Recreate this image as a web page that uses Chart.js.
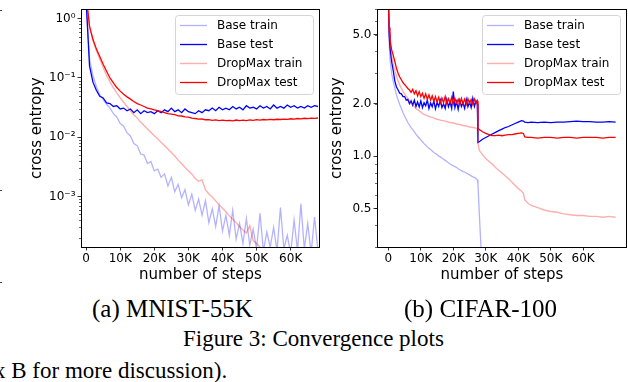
<!DOCTYPE html>
<html>
<head>
<meta charset="utf-8">
<script src="https://cdn.jsdelivr.net/npm/chart.js@4.4.1/dist/chart.umd.min.js"></script>
<style>
  body { margin: 0; background: #fff; width: 628px; height: 382px; overflow: hidden; position: relative; }
  canvas { position: absolute; top: 0; }
  #mnist { left: 0; }
  #cifar { left: 320px; }
  .cap { position: absolute; font-family: 'Liberation Serif', 'Times New Roman', serif; color: #000; white-space: nowrap; line-height: 1; }
  .mark { position: absolute; left: 0; width: 2px; height: 1px; background: #444; }
</style>
</head>
<body>
<canvas id="mnist" width="325" height="290"></canvas>
<canvas id="cifar" width="308" height="290"></canvas>
<div class="cap" style="left:92px;top:296px;font-size:25px">(a) MNIST-55K</div>
<div class="cap" style="left:404px;top:296px;font-size:25px">(b) CIFAR-100</div>
<div class="cap" style="left:183px;top:327px;font-size:23px">Figure 3: Convergence plots</div>
<div class="cap" style="left:-6px;top:359px;font-size:23px">x B for more discussion).</div>
<div class="mark" style="top:10px"></div>
<div class="mark" style="top:190px"></div>
<div class="mark" style="top:282px"></div>
<script>
const seriesLabels = ['Base train', 'Base test', 'DropMax train', 'DropMax test'];
const stepTicks = [0, 10000, 20000, 30000, 40000, 50000, 60000];
const stepLabels = ['0', '10K', '20K', '30K', '40K', '50K', '60K'];

// (a) MNIST-55K
const mnistSteps = [0, 1000, 2000, 3000, 4000, 5000, 6000, 7000, 8000, 9000,
  10000, 11000, 12000, 13000, 14000, 15000, 16000, 17000, 18000, 19000,
  20000, 21000, 22000, 23000, 24000, 25000, 26000, 27000, 28000, 29000,
  30000, 31000, 32000, 33000, 34000, 35000, 36000, 37000, 38000, 39000,
  40000, 41000, 42000, 43000, 44000, 45000, 46000, 47000, 48000, 49000,
  50000, 51000, 52000, 53000, 54000, 55000, 56000, 57000, 58000, 59000,
  60000, 61000, 62000, 63000, 64000, 65000, 66000, 67000, 68000];
const mnistBaseTrain = [2.0, 0.21, 0.11, 0.072, 0.052, 0.043, 0.036, 0.031, 0.025, 0.022,
  0.017, 0.0155, 0.0118, 0.0105, 0.0078, 0.0072, 0.0052, 0.005, 0.0036, 0.0039,
  0.0027, 0.0029, 0.0021, 0.0024, 0.0015, 0.0021, 0.0012, 0.0016, 0.00095, 0.0013,
  0.00072, 0.0011, 0.00058, 0.0009, 0.00048, 0.00085, 0.00036, 0.00062, 0.00031, 0.0007,
  0.00026, 0.00048, 0.00022, 0.00058, 0.00019, 0.00035, 0.00016, 0.00042, 0.00015, 0.00028,
  0.00013, 0.00052, 0.00012, 0.00025, 0.00014, 0.0003, 0.00012, 0.00065, 0.00013, 0.00022,
  0.00011, 0.0004, 0.00012, 0.00075, 0.00013, 0.00035, 0.00011, 0.00045, 0.00012];
const mnistBaseTest = [2.0, 0.16, 0.085, 0.062, 0.049, 0.046, 0.038, 0.037, 0.033, 0.034,
  0.030, 0.031, 0.028, 0.030, 0.026, 0.029, 0.025, 0.028, 0.026, 0.027,
  0.025, 0.028, 0.026, 0.029, 0.027, 0.031, 0.027, 0.029, 0.026, 0.030,
  0.027, 0.026, 0.025, 0.028, 0.026, 0.029, 0.028, 0.031, 0.028, 0.032,
  0.029, 0.031, 0.029, 0.033, 0.030, 0.032, 0.029, 0.034, 0.031, 0.032,
  0.030, 0.034, 0.031, 0.033, 0.030, 0.035, 0.031, 0.033, 0.031, 0.035,
  0.032, 0.034, 0.031, 0.033, 0.031, 0.034, 0.032, 0.034, 0.033];
const mnistDropTrain = [2.5, 0.72, 0.43, 0.29, 0.21, 0.15, 0.11, 0.086, 0.068, 0.056,
  0.046, 0.039, 0.033, 0.028, 0.024, 0.021, 0.018, 0.0158, 0.0138, 0.0121,
  0.0106, 0.0094, 0.0082, 0.0072, 0.0063, 0.0055, 0.0048, 0.0041, 0.0036, 0.0031,
  0.0027, 0.0024, 0.002, 0.0018, 0.0019, 0.0013, 0.0011, 0.00098, 0.00084, 0.00072,
  0.00063, 0.00055, 0.00047, 0.00041, 0.00036, 0.00031, 0.00027, 0.00024, 0.00032, 0.00018,
  0.00016, 0.00014, 0.00013, 0.00011, 0.0001, 0.00009, null, null, null, null,
  null, null, null, null, null, null, null, null, null];
const mnistDropTest = [2.5, 0.75, 0.45, 0.31, 0.23, 0.17, 0.13, 0.10, 0.083, 0.069,
  0.060, 0.053, 0.048, 0.044, 0.040, 0.037, 0.035, 0.033, 0.031, 0.030,
  0.029, 0.028, 0.027, 0.026, 0.025, 0.0245, 0.024, 0.023, 0.0228, 0.022,
  0.0218, 0.021, 0.0207, 0.0202, 0.0203, 0.0197, 0.0198, 0.0193, 0.0196, 0.0191,
  0.0194, 0.019, 0.0193, 0.0189, 0.0195, 0.0191, 0.0194, 0.019, 0.0196, 0.0193,
  0.0198, 0.0195, 0.0199, 0.0196, 0.02, 0.0197, 0.0201, 0.0199, 0.0202, 0.02,
  0.0205, 0.0202, 0.0207, 0.0204, 0.0209, 0.0206, 0.021, 0.0208, 0.0211];
const mnistYTicks = [1e-3, 1e-2, 1e-1, 1];
const mnistYLabels = ['10\u207B\u00B3', '10\u207B\u00B2', '10\u207B\u00B9', '10\u2070'];

// (b) CIFAR-100
const cifarSteps = [0, 250, 500, 1000, 1500, 2000, 2500, 3000, 3500, 4000,
  4500, 5000, 5500, 6000, 6500, 7000, 7500, 8000, 8500, 9000,
  9500, 10000, 10500, 11000, 11500, 12000, 12500, 13000, 13500, 14000,
  14500, 15000, 15500, 16000, 16500, 17000, 17500, 18000, 18500, 19000,
  19500, 20000, 20500, 21000, 21500, 22000, 22500, 23000, 23500, 24000,
  24500, 25000, 25500, 26000, 26500, 27000,
  27400, 27600, 28000, 29000, 30000, 31000, 32000, 33000, 34000,
  35000, 36000, 37000, 38000, 39000, 40000, 41000, 41600, 42000, 43000,
  44000, 46000, 48000, 50000, 52000, 54000, 56000, 58000, 60000, 62000,
  64000, 66000, 68000, 70000];
const cifarBaseTrain = [8.0, 4.5, 3.6, 3.0, 2.7, 2.45, 2.25, 2.1, 1.98, 1.88,
  1.78, 1.7, 1.63, 1.56, 1.51, 1.46, 1.42, 1.38, 1.34, 1.3,
  1.27, 1.24, 1.21, 1.18, 1.155, 1.13, 1.11, 1.09, 1.07, 1.05,
  1.035, 1.02, 1.0, 0.99, 0.975, 0.96, 0.945, 0.93, 0.915, 0.9,
  0.89, 0.88, 0.87, 0.86, 0.845, 0.835, 0.825, 0.815, 0.81, 0.8,
  0.79, 0.78, 0.77, 0.76, 0.755, 0.745,
  0.73, 0.69, 0.47, 0.2, null, null, null, null, null,
  null, null, null, null, null, null, null, null, null, null,
  null, null, null, null, null, null, null, null, null, null,
  null, null, null, null];
const cifarBaseTest = [8.0, 5.0, 4.2, 3.5, 3.1, 2.7, 2.5, 2.4, 2.3, 2.28,
  2.2, 2.2, 2.1, 2.12, 2.0, 2.08, 1.96, 2.1, 1.93, 2.05,
  1.92, 2.08, 1.9, 2.03, 1.95, 2.1, 1.88, 2.02, 1.92, 2.08,
  1.87, 2.04, 1.93, 2.1, 1.9, 2.0, 1.88, 2.12, 1.92, 2.05,
  1.88, 2.35, 1.9, 2.06, 1.86, 2.1, 1.93, 2.02, 1.88, 2.12,
  1.92, 2.05, 1.9, 2.15, 1.93, 2.08,
  2.0, 1.2, 1.21, 1.25, 1.28, 1.31, 1.34, 1.37, 1.4,
  1.43, 1.46, 1.48, 1.51, 1.54, 1.57, 1.6, 1.59, 1.57, 1.56,
  1.57, 1.56, 1.57, 1.56, 1.57, 1.57, 1.58, 1.59, 1.58, 1.58,
  1.57, 1.57, 1.58, 1.57];
const cifarDropTrain = [8.0, 5.2, 4.5, 3.8, 3.4, 3.1, 2.88, 2.7, 2.56, 2.45,
  2.36, 2.28, 2.21, 2.15, 2.08, 2.02, 1.97, 1.92, 1.88, 1.85,
  1.82, 1.79, 1.76, 1.74, 1.72, 1.71, 1.69, 1.68, 1.67, 1.66,
  1.64, 1.63, 1.62, 1.61, 1.6, 1.6, 1.59, 1.58, 1.57, 1.56,
  1.555, 1.55, 1.54, 1.53, 1.525, 1.52, 1.51, 1.5, 1.495, 1.49,
  1.48, 1.47, 1.465, 1.46, 1.455, 1.45,
  1.44, 1.2, 1.08, 1.02, 0.97, 0.93, 0.9, 0.86, 0.83,
  0.8, 0.77, 0.74, 0.71, 0.68, 0.65, 0.63, 0.61, 0.56, 0.535,
  0.52, 0.505, 0.49, 0.48, 0.475, 0.465, 0.46, 0.455, 0.455, 0.45,
  0.45, 0.445, 0.45, 0.445];
const cifarDropTest = [8.0, 5.5, 4.7, 4.1, 3.8, 3.5, 3.2, 3.0, 2.85, 2.75,
  2.65, 2.58, 2.52, 2.45, 2.4, 2.33, 2.42, 2.28, 2.38, 2.22,
  2.35, 2.2, 2.3, 2.15, 2.28, 2.12, 2.25, 2.1, 2.22, 2.06,
  2.2, 2.05, 2.18, 2.02, 2.16, 2.03, 2.2, 2.0, 2.14, 2.02,
  2.18, 1.99, 2.15, 2.02, 2.12, 1.98, 2.15, 2.0, 2.13, 1.99,
  2.14, 2.01, 2.12, 1.98, 2.13, 2.02,
  2.08, 1.45, 1.42, 1.38, 1.35, 1.33, 1.31, 1.31, 1.32,
  1.31, 1.32, 1.33, 1.33, 1.34, 1.35, 1.36, 1.35, 1.29, 1.28,
  1.28, 1.27, 1.28, 1.28, 1.27, 1.28, 1.28, 1.27, 1.28, 1.28,
  1.28, 1.27, 1.28, 1.28];
const cifarYTicks = [0.5, 1, 2, 5];
const cifarYLabels = ['0.5', '1.0', '2.0', '5.0'];

const styles = [
  { color: 'rgba(0,0,255,0.3)', width: 1.3, dash: [] },
  { color: '#0000ff', width: 1.3, dash: [] },
  { color: 'rgba(255,0,0,0.32)', width: 1.4, dash: [] },
  { color: '#ff0000', width: 1.3, dash: [] }
];

Chart.defaults.font.family = 'DejaVu Sans';
Chart.defaults.color = '#000';

const framePlugin = {
  id: 'frame',
  afterDraw(chart, args, opts) {
    const { ctx, chartArea: a, scales } = chart;
    ctx.save();
    // minor log ticks
    ctx.strokeStyle = '#000';
    ctx.lineWidth = 0.6;
    opts.minor.forEach(v => {
      if (v < scales.y.min || v > scales.y.max) return;
      const y = Math.round(scales.y.getPixelForValue(v)) + 0.5;
      ctx.beginPath();
      ctx.moveTo(a.left - 2, y);
      ctx.lineTo(a.left, y);
      ctx.stroke();
    });
    ctx.lineWidth = 1;
    ctx.strokeRect(Math.round(a.left) + 0.5, Math.round(a.top) + 0.5,
      Math.round(a.right - a.left) - 1, Math.round(a.bottom - a.top));
    // legend, upper right
    const w = 138, h = 79;
    const lx = Math.round(a.right - 7 - w), ly = Math.round(a.top + 6);
    ctx.beginPath();
    ctx.roundRect(lx + 0.5, ly + 0.5, w, h, 3);
    ctx.fillStyle = 'rgba(255,255,255,0.8)';
    ctx.fill();
    ctx.strokeStyle = '#d5d5d5';
    ctx.stroke();
    ctx.font = '12px "DejaVu Sans"';
    ctx.textBaseline = 'middle';
    chart.data.datasets.forEach((ds, i) => {
      const y = ly + 10.5 + i * 19;
      ctx.strokeStyle = ds.borderColor;
      ctx.lineWidth = ds.borderWidth;
      ctx.setLineDash(ds.borderDash);
      ctx.beginPath();
      ctx.moveTo(lx + 5, y);
      ctx.lineTo(lx + 32, y);
      ctx.stroke();
      ctx.setLineDash([]);
      ctx.fillStyle = '#000';
      ctx.fillText(ds.label, lx + 42, y);
    });
    ctx.restore();
  }
};

function minorTicks(lo, hi) {
  const out = [];
  for (let e = lo; e <= hi; e++) {
    for (let m = 2; m <= 9; m++) out.push(m * Math.pow(10, e));
  }
  return out;
}

function makeChart(id, steps, series, xr, yr, yTicks, yLabels, yWidth, titlePad, padRight, minor) {
  const datasets = series.map((vals, i) => ({
    label: seriesLabels[i],
    data: steps.map((s, j) => ({ x: s, y: vals[j] })),
    borderColor: styles[i].color,
    borderWidth: styles[i].width,
    borderDash: styles[i].dash,
    pointRadius: 0,
    tension: 0,
    spanGaps: false,
    order: 4 - i
  }));
  return new Chart(document.getElementById(id), {
    type: 'line',
    data: { datasets },
    options: {
      responsive: false,
      animation: false,
      layout: { padding: { left: 0, top: 2, right: padRight, bottom: 0 } },
      plugins: { legend: { display: false }, tooltip: { enabled: false }, frame: { minor } },
      scales: {
        x: {
          type: 'linear', min: xr[0], max: xr[1],
          afterFit: s => { s.height = 43; },
          afterBuildTicks: s => { s.ticks = stepTicks.map(v => ({ value: v })); },
          ticks: { autoSkip: false, maxRotation: 0, padding: 1, font: { size: 12 },
            callback: (v, i) => stepLabels[i] },
          grid: { drawOnChartArea: false, drawTicks: true, tickLength: 3.5, color: '#000', tickWidth: 0.8 },
          border: { display: false },
          title: { display: true, text: 'number of steps', font: { size: 15 }, padding: { top: 0, bottom: 6 } }
        },
        y: {
          type: 'logarithmic', min: yr[0], max: yr[1],
          afterFit: s => { s.width = yWidth; },
          afterBuildTicks: s => { s.ticks = yTicks.map(v => ({ value: v })); },
          ticks: { autoSkip: false, padding: 2, font: { size: 12 },
            callback: (v, i) => yLabels[i] },
          grid: { drawOnChartArea: false, drawTicks: true, tickLength: 3.5, color: '#000', tickWidth: 0.8 },
          border: { display: false },
          title: { display: true, text: 'cross entropy', font: { size: 15 }, padding: { top: titlePad, bottom: 0 } }
        }
      }
    },
    plugins: [framePlugin]
  });
}

makeChart('mnist', mnistSteps, [mnistBaseTrain, mnistBaseTest, mnistDropTrain, mnistDropTest],
  [-1500, 68600], [1.4e-4, 1.45], mnistYTicks, mnistYLabels, 81, 28, 5, minorTicks(-4, -1));
makeChart('cifar', cifarSteps, [cifarBaseTrain, cifarBaseTest, cifarDropTrain, cifarDropTest],
  [-3500, 73500], [0.3, 7.0], cifarYTicks, cifarYLabels, 57, 8, 1, minorTicks(-1, 0));
</script>
</body>
</html>
